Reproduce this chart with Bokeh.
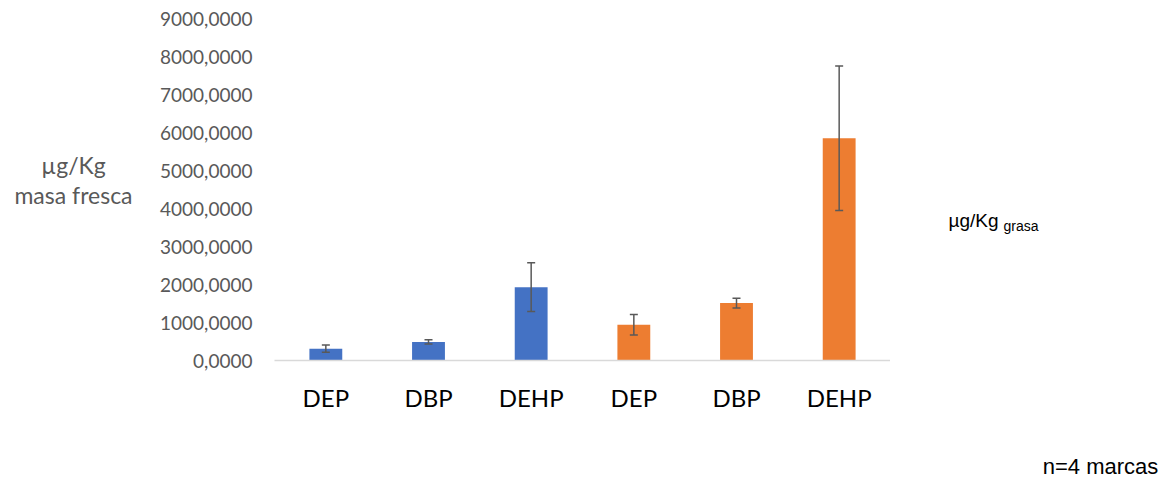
from bokeh.plotting import figure
from bokeh.models import ColumnDataSource, Whisker, TeeHead, FixedTicker, Range1d, Label
from bokeh.layouts import row
from bokeh.embed import file_html
from bokeh.resources import INLINE

# ---- data ----
categories = ["DEP", "DBP", "DEHP", "DEP", "DBP", "DEHP"]
groups = ["masa fresca", "masa fresca", "masa fresca", "grasa", "grasa", "grasa"]
values = [310, 490, 1930, 940, 1510, 5850]
errors = [95, 55, 640, 270, 130, 1900]
group_colors = {"masa fresca": "#4472C4", "grasa": "#ED7D31"}
y_ticks = [0, 1000, 2000, 3000, 4000, 5000, 6000, 7000, 8000, 9000]
y_tick_labels = ["0,0000", "1000,0000", "2000,0000", "3000,0000", "4000,0000",
                 "5000,0000", "6000,0000", "7000,0000", "8000,0000", "9000,0000"]

xs = list(range(len(categories)))
src = ColumnDataSource(dict(
    x=xs,
    top=values,
    upper=[v + e for v, e in zip(values, errors)],
    lower=[v - e for v, e in zip(values, errors)],
    color=[group_colors[g] for g in groups],
))

H = 480
LEFT_W, MAIN_W, RIGHT_W = 150, 740, 285
DY = 8  # the text panels render a little lower than the main chart


def text_panel(w):
    f = figure(frame_width=w, frame_height=H, output_backend="svg", toolbar_location=None,
               x_range=Range1d(0, w), y_range=Range1d(0, H),
               x_axis_location=None, y_axis_location=None,
               min_border=0)
    if "frame_align" in f.properties():
        f.frame_align = False
    f.outline_line_color = None
    f.xgrid.visible = False
    f.ygrid.visible = False
    return f


# ---- left panel: y title ----
left = text_panel(LEFT_W)
for txt, yb in [("µg/Kg", 172), ("masa fresca", 202)]:
    left.add_layout(Label(x=73, y=H - (yb - DY), text=txt,
                          text_font="Lato", text_font_size="23px", text_color="#595959",
                          text_align="center", text_baseline="alphabetic"))

# ---- main chart ----
p = figure(width=MAIN_W, height=H, output_backend="svg", toolbar_location=None,
           x_range=Range1d(-0.5, len(categories) - 0.5),
           y_range=Range1d(0, 9000),
           min_border_left=124, min_border_right=0,
           min_border_top=18, min_border_bottom=120)
p.outline_line_color = None
p.xgrid.visible = False
p.ygrid.visible = False

p.vbar(x="x", top="top", width=0.32, color="color", line_color=None, source=src)

w = Whisker(base="x", upper="upper", lower="lower", source=src,
            line_color="#595959", line_width=1.5, level="overlay",
            upper_head=TeeHead(size=8, line_color="#595959", line_width=1.5),
            lower_head=TeeHead(size=8, line_color="#595959", line_width=1.5))
p.add_layout(w)

p.xaxis.ticker = FixedTicker(ticks=xs)
p.xaxis.major_label_overrides = {x: c for x, c in zip(xs, categories)}
p.xaxis.axis_line_color = "#d9d9d9"
p.xaxis.axis_line_width = 1.5
p.xaxis.major_tick_line_color = None
p.xaxis.minor_tick_line_color = None
p.xaxis.major_label_text_font = "Lato"
p.xaxis.major_label_text_font_size = "24px"
p.xaxis.major_label_text_color = "#000000"
p.xaxis.major_label_standoff = 16

p.yaxis.ticker = FixedTicker(ticks=y_ticks)
p.yaxis.major_label_overrides = {t: l for t, l in zip(y_ticks, y_tick_labels)}
p.yaxis.axis_line_color = None
p.yaxis.major_tick_line_color = None
p.yaxis.minor_tick_line_color = None
p.yaxis.major_label_text_font = "Lato"
p.yaxis.major_label_text_font_size = "19px"
p.yaxis.major_label_text_color = "#595959"
p.yaxis.major_label_standoff = 16

# ---- right panel: unit note and sample size ----
right = text_panel(RIGHT_W)
X0 = LEFT_W + MAIN_W
right.add_layout(Label(x=948 - X0, y=H - (228 - DY), text="µg/Kg",
                       text_font="Liberation Sans", text_font_size="19px", text_color="#000000",
                       text_align="left", text_baseline="alphabetic"))
right.add_layout(Label(x=1003 - X0, y=H - (233 - DY), text="grasa",
                       text_font="Liberation Sans", text_font_size="14px", text_color="#000000",
                       text_align="left", text_baseline="alphabetic"))
right.add_layout(Label(x=1100 - X0, y=H - (474 - DY), text="n=4 marcas",
                       text_font="Liberation Sans", text_font_size="22px", text_color="#000000",
                       text_align="center", text_baseline="alphabetic"))

layout = row(left, p, right)
open("out.html", "w").write(file_html(layout, INLINE))
